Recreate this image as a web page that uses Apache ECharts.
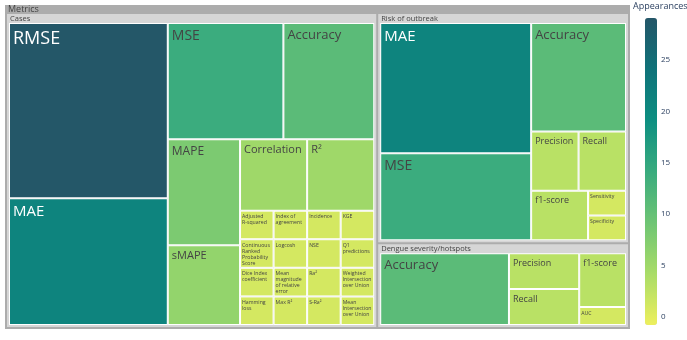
<!DOCTYPE html>
<html><head><meta charset="utf-8">
<script src="https://cdn.jsdelivr.net/npm/echarts@6/dist/echarts.min.js"></script>
<style>html,body{margin:0;padding:0;background:#fff}#c{width:687px;height:340px}</style>
</head><body><div id="c"></div>
<script>
// ---- data ----
const rootName = 'Metrics';
const sectionNames = ['Cases', 'Risk of outbreak', 'Dengue severity/hotspots'];
const casesMetrics = ['RMSE', 'MAE', 'MSE', 'Accuracy', 'MAPE', 'sMAPE', 'Correlation', 'R²',
  'Adjusted R-squared', 'Continuous Ranked Probability Score', 'Dice Index coefficient', 'Hamming loss',
  'Index of agreement', 'Incidence', 'KGE', 'Logcosh', 'Mean magnitude of relative error', 'Max R²',
  'NSE', 'Q1 predictions', 'Ra²', 'S-Ra²', 'Weighted Intersection over Union', 'Mean Intersection over Union'];
const casesValues = [29, 21, 14, 11, 8, 6, 5, 5, 1, 1, 1, 1, 1, 1, 1, 1, 1, 1, 1, 1, 1, 1, 1, 1];
const riskMetrics = ['MAE', 'MSE', 'Accuracy', 'Precision', 'Recall', 'f1-score', 'Sensitivity', 'Specificity'];
const riskValues = [21, 14, 11, 3, 3, 3, 1, 1];
const dengueMetrics = ['Accuracy', 'Precision', 'Recall', 'f1-score', 'AUC'];
const dengueValues = [11, 3, 3, 3, 1];
const colorbarTitle = 'Appearances';
const colorbarTicks = [0, 5, 10, 15, 20, 25];
const colorMin = -0.8, colorMax = 29.1;

// ---- styling ----
const palette = ['#edef5d', '#a9dc67', '#6ec574', '#39ab7e', '#0d8f81', '#0f7279', '#245668'];
const FONT = 'Open Sans';

function colorFor(v) {
  return echarts.color.lerp((v - colorMin) / (colorMax - colorMin), palette);
}
function textColorFor(c) {
  const p = echarts.color.parse(c);
  const b = (p[0] * 299 + p[1] * 587 + p[2] * 114) / 1000;
  return b > 128 ? '#444' : '#fff';
}
function fontSizeFor(v) {
  if (v >= 25) return 18;
  if (v >= 18) return 15;
  if (v >= 12) return 14;
  if (v >= 9) return 13;
  if (v >= 7) return 12;
  if (v >= 5) return 11;
  if (v >= 2) return 9;
  return 5.2;
}
function leaves(names, values) {
  return names.map((n, i) => {
    const col = colorFor(values[i]);
    const fs = fontSizeFor(values[i]);
    const small = fs < 7;
    return {
      name: n, value: values[i],
      itemStyle: { color: col },
      label: {
        fontSize: fs, lineHeight: small ? 6 : Math.round(fs * 1.3), color: textColorFor(col),
        overflow: small ? 'break' : 'none',
        padding: small ? [2, 0, 0, 1] : [3, 2, 0, 3]
      }
    };
  });
}
const treeData = [{
  name: rootName,
  children: [
    { name: sectionNames[0], children: leaves(casesMetrics, casesValues) },
    { name: sectionNames[1], children: leaves(riskMetrics, riskValues) },
    { name: sectionNames[2], children: leaves(dengueMetrics, dengueValues) }
  ]
}];

const chart = echarts.init(document.getElementById('c'), null, { renderer: 'canvas' });
chart.setOption({
  animation: false,
  textStyle: { fontFamily: FONT },
  title: {
    text: colorbarTitle, left: 633, top: 2, padding: 0,
    textStyle: { fontSize: 9, fontWeight: 'normal', color: '#2a3f5f', fontFamily: FONT }
  },
  grid: { left: 645, top: 18, width: 12, height: 307 },
  xAxis: { type: 'category', show: false, data: [] },
  yAxis: {
    type: 'value', min: colorMin, max: colorMax, position: 'right',
    axisLine: { show: false }, axisTick: { show: false }, splitLine: { show: false },
    axisLabel: { customValues: colorbarTicks, fontSize: 8, color: '#2a3f5f', margin: 4, fontFamily: FONT }
  },
  visualMap: {
    type: 'continuous', seriesIndex: 1, min: colorMin, max: colorMax,
    left: 645, top: 18, itemWidth: 12, itemHeight: 307, padding: 0,
    calculable: false, text: null, showLabel: false,
    inRange: { color: palette }
  },
  series: [{
    type: 'treemap', name: '',
    left: 5, top: 5, width: 625, height: 324,
    roam: false, nodeClick: false, squareRatio: 1,
    breadcrumb: { show: false },
    visibleMin: 0,
    sort: false,
    silent: true,
    label: {
      show: true, position: 'insideTopLeft',
      fontFamily: FONT, formatter: '{b}'
    },
    upperLabel: { show: false },
    emphasis: { disabled: true },
    levels: [
      { itemStyle: { borderWidth: 0, gapWidth: 0 } },
      {
        itemStyle: { borderColor: '#acacac', borderWidth: 2, gapWidth: 2 },
        upperLabel: { show: true, height: 9, fontSize: 9, color: '#444', padding: [0, 0, 0, 1], fontFamily: FONT }
      },
      {
        itemStyle: { borderColor: '#d6d6d6', borderWidth: 2, gapWidth: 0 },
        upperLabel: { show: true, height: 9, fontSize: 7.5, color: '#444', padding: [0, 0, 0, 1], fontFamily: FONT }
      },
      { itemStyle: { borderColor: '#ffffff', borderWidth: 1, gapWidth: 0 } }
    ],
    data: treeData
  }, {
    type: 'line', data: [], xAxisIndex: 0, yAxisIndex: 0
  }]
});
</script></body></html>
